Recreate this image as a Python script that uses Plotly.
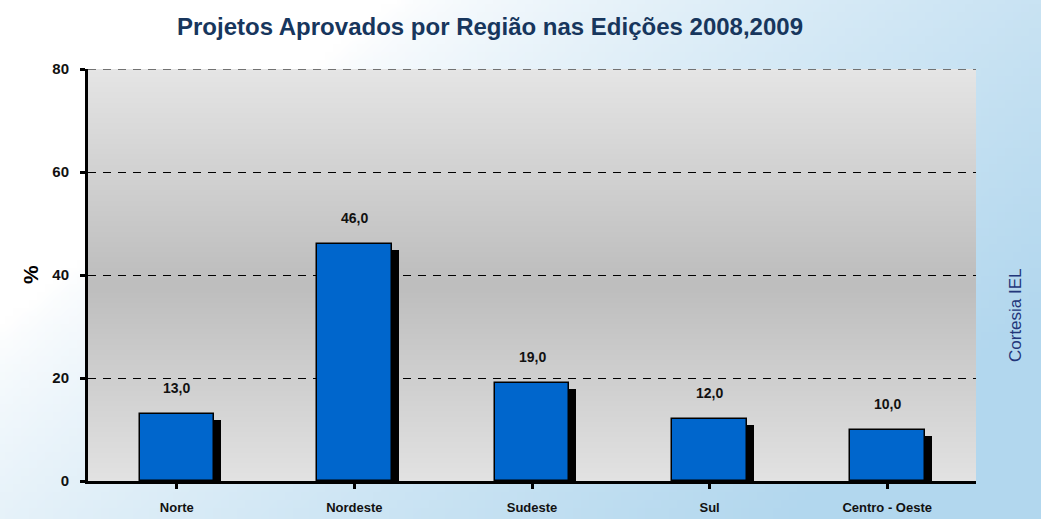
import base64, struct, zlib
import plotly.graph_objects as go

# ---------------- data ----------------
categories = ["Norte", "Nordeste", "Sudeste", "Sul", "Centro - Oeste"]
values = [13.0, 46.0, 19.0, 12.0, 10.0]
y_ticks = [0, 20, 40, 60, 80]
title_text = "Projetos Aprovados por Região nas Edições 2008,2009"
y_title = "%"
credit = "Cortesia IEL"

# ---------------- geometry ----------------
W, H = 1041, 519
ML, MR, MT, MB = 88, 65, 69, 38
PW, PH = W - ML - MR, H - MT - MB
YMAX = 80
BAR_W = 0.42
px_per_cat = PW / len(categories)
px_per_unit = PH / YMAX
shadow_dx = 7 / px_per_cat
shadow_dy = 6 / px_per_unit


def png_data_uri(w, h, fn):
    raw = bytearray()
    for j in range(h):
        raw.append(0)
        for i in range(w):
            r, g, b = fn(i / (w - 1), j / (h - 1))
            raw += bytes((int(r), int(g), int(b)))
    def chunk(t, d):
        c = struct.pack(">I", len(d)) + t + d
        return c + struct.pack(">I", zlib.crc32(t + d) & 0xffffffff)
    png = b"\x89PNG\r\n\x1a\n" + chunk(b"IHDR", struct.pack(">IIBBBBB", w, h, 8, 2, 0, 0, 0))
    png += chunk(b"IDAT", zlib.compress(bytes(raw), 9)) + chunk(b"IEND", b"")
    return "data:image/png;base64," + base64.b64encode(png).decode()


def lerp(c1, c2, t):
    return tuple(a + (b - a) * t for a, b in zip(c1, c2))


def paper_fn(u, v):
    t = 1.0 * u + 0.6 * v - 0.38
    t = max(0.0, min(1.0, t))
    return lerp((255, 255, 255), (178, 215, 238), t ** 0.75)


def plot_fn(u, v):
    t = 1 - abs(v - 0.52) / 0.52
    t = max(0.0, min(1.0, t))
    return lerp((229, 229, 229), (190, 190, 190), t)


paper_img = png_data_uri(130, 65, paper_fn)
plot_img = png_data_uri(8, 80, plot_fn)


def cx(px):
    return (px - ML) / PW


def cy(py):
    return 1 - (py - MT) / PH


FONT = "Liberation Sans, Arial, sans-serif"

fig = go.Figure()

# shadow bars
fig.add_trace(go.Bar(
    x=list(range(len(categories))), y=[v - shadow_dy for v in values],
    width=BAR_W, offset=-BAR_W / 2 + shadow_dx,
    marker=dict(color="black", line=dict(width=0)),
    hoverinfo="skip", showlegend=False,
))
# main bars
fig.add_trace(go.Bar(
    x=list(range(len(categories))), y=values,
    width=BAR_W, offset=-BAR_W / 2,
    marker=dict(color="#0066cc", line=dict(color="black", width=1.5)),
    showlegend=False,
))

# value labels
for i, v in enumerate(values):
    fig.add_annotation(
        x=i, y=v, xref="x", yref="y", yshift=26,
        text="<b>" + f"{v:.1f}".replace(".", ",") + "</b>", showarrow=False,
        font=dict(family=FONT, size=14, color="#111111"),
        yanchor="middle",
    )

fig.add_annotation(
    x=cx(30), y=cy(275), xref="paper", yref="paper", text=f"<b>{y_title}</b>",
    showarrow=False, textangle=-90, xanchor="center", yanchor="middle",
    font=dict(family=FONT, size=21, color="black"),
)

fig.add_annotation(
    x=cx(1015), y=cy(315), xref="paper", yref="paper", text=credit,
    showarrow=False, textangle=-90, xanchor="center", yanchor="middle",
    font=dict(family=FONT, size=17, color="#22367a"),
)

# top dashed gridline (edge of range)
fig.add_shape(type="line", xref="paper", yref="y", x0=0, x1=1,
              y0=y_ticks[-1], y1=y_ticks[-1],
              line=dict(color="black", width=1, dash="8px,7px"), layer="above")

fig.update_layout(
    width=W, height=H,
    margin=dict(l=ML, r=MR, t=MT, b=MB, autoexpand=False),
    paper_bgcolor="rgba(0,0,0,0)", plot_bgcolor="rgba(0,0,0,0)",
    barmode="overlay", bargap=0,
    title=dict(
        text=f"<b>{title_text}</b>", x=490 / W, y=1 - 27 / H,
        xanchor="center", yanchor="middle", xref="container", yref="container",
        font=dict(family=FONT, size=24, color="#17365d"),
    ),
    images=[
        dict(source=paper_img, xref="paper", yref="paper", x=cx(0), y=cy(0),
             sizex=W / PW, sizey=H / PH, xanchor="left", yanchor="top",
             sizing="stretch", layer="below"),
        dict(source=plot_img, xref="paper", yref="paper", x=0, y=1,
             sizex=1, sizey=1, xanchor="left", yanchor="top",
             sizing="stretch", layer="below"),
    ],
    xaxis=dict(
        range=[-0.5, len(categories) - 0.5],
        tickmode="array", tickvals=list(range(len(categories))),
        ticktext=[f"<b>{c}</b>" for c in categories],
        tickson="boundaries", ticks="outside", ticklen=5, tickwidth=3, tickcolor="black",
        showline=True, linewidth=3, linecolor="black", showgrid=False, zeroline=False,
        tickfont=dict(family=FONT, size=13, color="#111111"),
        ticklabelstandoff=7,
    ),
    yaxis=dict(
        range=[0, YMAX], tickmode="array", tickvals=y_ticks,
        ticktext=[f"<b>{t}</b>" for t in y_ticks],
        ticks="outside", ticklen=5, tickwidth=3, tickcolor="black",
        showline=True, linewidth=3, linecolor="black",
        showgrid=True, gridcolor="black", gridwidth=1, griddash="8px,7px",
        zeroline=False,
        tickfont=dict(family=FONT, size=15, color="#111111"),
        ticklabelstandoff=8,
    ),
)

fig.write_html("out.html", config={"displayModeBar": False},
               post_script="document.body.style.margin='0';document.body.style.padding='0';")
